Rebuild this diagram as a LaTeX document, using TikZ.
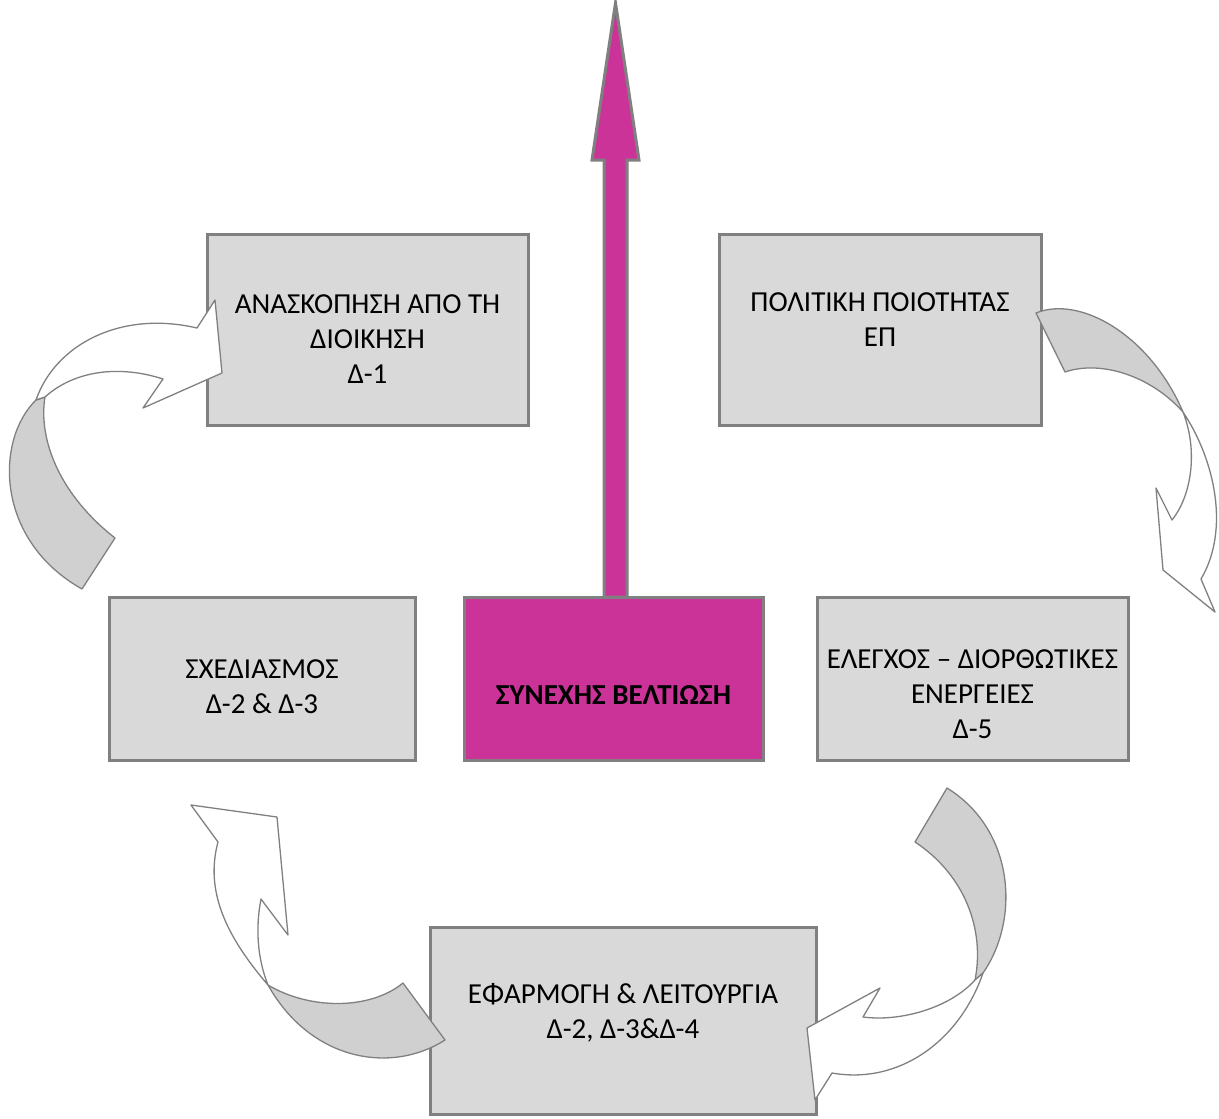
\documentclass[tikz,border=0pt]{standalone}
\usepackage{fontspec}
\setmainfont{Carlito}
\usepackage{tikz}
\usetikzlibrary{positioning,calc}
\definecolor{boxGray}{RGB}{217,217,217}
\definecolor{lineGray}{RGB}{128,128,128}
\definecolor{bandGray}{RGB}{208,208,208}
\definecolor{improveMagenta}{RGB}{204,51,153}

\begin{document}
\begin{tikzpicture}[x=1pt, y=-1pt,
    every node/.style={font=\fontsize{29}{35}\selectfont, align=center},
    box/.style={draw=lineGray, line width=3pt, fill=boxGray, inner sep=0pt},
    boxtext/.style={anchor=north, inner sep=0pt},
    band/.style={draw=lineGray, line width=1.3pt, line join=round}]
            \useasboundingbox (0,0) rectangle (1219,1119);

            % Upward arrow out of the centre box
            \draw[draw=lineGray, line width=3pt, fill=improveMagenta] (604,597) -- (604,160) -- (592,160)
                -- (615.5,3) -- (639,160) -- (627,160) -- (627,597) -- cycle;

            % Boxes
            \node[box, minimum width=321pt, minimum height=191pt] (review) at (367.5,329.5) {};
            \node[box, minimum width=322pt, minimum height=191pt] (policy) at (880,329.5) {};
            \node[box, minimum width=306pt, minimum height=163pt] (plan) at (262,678.5) {};
            \node[box, fill=improveMagenta, minimum width=299pt, minimum height=163pt] (improve) at (613.5,678.5) {};
            \node[box, minimum width=311pt, minimum height=163pt] (check) at (972.5,678.5) {};
            \node[box, minimum width=386pt, minimum height=187pt] (operate) at (623,1020.5) {};

            % Texts
            \node[boxtext] at ([yshift=-62pt]review.north) {ΑΝΑΣΚΟΠΗΣΗ ΑΠΟ ΤΗ\\ΔΙΟΙΚΗΣΗ\\Δ-1};
            \node[boxtext] at ([yshift=-60pt]policy.north) {ΠΟΛΙΤΙΚΗ ΠΟΙΟΤΗΤΑΣ\\ΕΠ};
            \node[boxtext] at ([yshift=-64pt]plan.north) {ΣΧΕΔΙΑΣΜΟΣ\\Δ-2 \& Δ-3};
            \node[boxtext, font=\fontsize{29}{35}\selectfont\bfseries] at ([yshift=-90pt]improve.north) {ΣΥΝΕΧΗΣ ΒΕΛΤΙΩΣΗ};
            \node[boxtext] at ([yshift=-54pt]check.north) {ΕΛΕΓΧΟΣ – ΔΙΟΡΘΩΤΙΚΕΣ\\ΕΝΕΡΓΕΙΕΣ\\Δ-5};
            \node[boxtext] at ([yshift=-58pt]operate.north) {ΕΦΑΡΜΟΓΗ \& ΛΕΙΤΟΥΡΓΙΑ\\Δ-2, Δ-3\&Δ-4};

            % Curved arrows: plan -> review
            \draw[band, fill=bandGray] (36,400) .. controls (-5,440) and (-5,540) .. (82,589) -- (115,538)
                .. controls (60,495) and (38,440) .. (45,397) -- cycle;
            \draw[band, fill=white] (36,400) .. controls (55,345) and (120,310) .. (197,328) -- (215,300)
                -- (222,373) -- (143,408) -- (163,379) .. controls (120,365) and (75,370) .. (45,397) -- cycle;

            % policy -> check
            \draw[band, fill=bandGray] (1036,313) .. controls (1080,295) and (1150,335) .. (1183,412)
                .. controls (1150,375) and (1100,360) .. (1065,372) -- cycle;
            \draw[band, fill=white] (1183,412) .. controls (1198,450) and (1192,495) .. (1172,520) -- (1156,488)
                -- (1163,570) -- (1215,612) -- (1201,579) .. controls (1230,530) and (1215,460) .. (1183,412) -- cycle;

            % check -> operate
            \draw[band, fill=bandGray] (947,788) .. controls (1015,830) and (1020,920) .. (983,973) -- (975,980)
                .. controls (985,930) and (965,875) .. (915,842) -- cycle;
            \draw[band, fill=white] (983,973) .. controls (960,1040) and (900,1085) .. (832,1073) -- (815,1100)
                -- (807,1028) -- (880,988) -- (863,1017) .. controls (900,1022) and (950,1008) .. (975,980) -- cycle;

            % operate -> plan
            \draw[band, fill=bandGray] (268,985) .. controls (310,1010) and (370,1010) .. (403,983) -- (445,1040)
                .. controls (390,1075) and (310,1060) .. (268,985) -- cycle;
            \draw[band, fill=white] (268,985) .. controls (225,935) and (205,890) .. (218,842) -- (191,805)
                -- (277,817) -- (288,935) -- (261,899) .. controls (255,930) and (258,960) .. (268,985) -- cycle;
        \end{tikzpicture}
\end{document}
